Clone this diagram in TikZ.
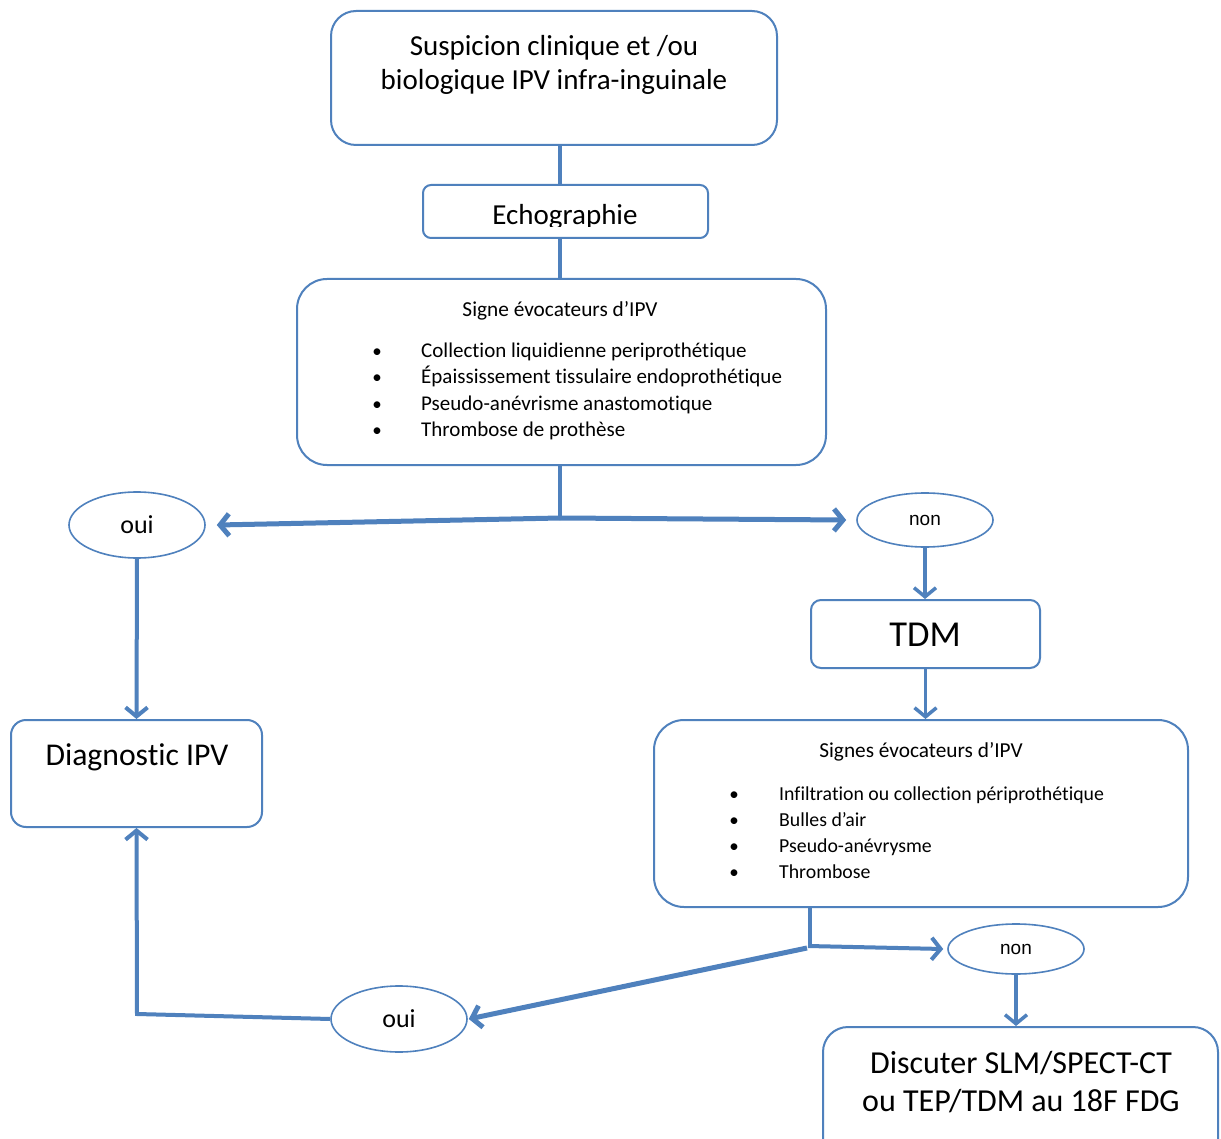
\documentclass[tikz,border=0pt]{standalone}
\usepackage{fontspec}
\setmainfont{Carlito}[Ligatures=NoCommon]
\newfontfamily\arialf{Liberation Sans}
\usetikzlibrary{arrows.meta,shapes.geometric}
\definecolor{obl}{HTML}{4F81BD}
\begin{document}
\begin{tikzpicture}[x=1pt,y=-1pt,
  box/.style={draw=obl,line width=2pt,rounded corners=#1,inner sep=0pt},
  oval/.style={draw=obl,line width=1.6pt,ellipse,inner sep=0pt},
  conn/.style={draw=obl,line width=4pt},
  arr/.style={draw=obl,line width=#1,-{Straight Barb[length=9pt,width=22pt]}},
  arr/.default=4pt,
  txt/.style={inner sep=0pt,align=center},
  item/.style={inner sep=0pt,anchor=base west,font=\fontsize{21}{25}\selectfont},
  itemb/.style={inner sep=0pt,anchor=base west,font=\fontsize{19.8}{24}\selectfont},
  bul/.style={inner sep=0pt,anchor=base,font=\fontsize{19}{23}\selectfont}]
\path[use as bounding box,clip] (0,0) rectangle (1221,1139);
\fill[white] (0,0) rectangle (1221,1139);

% boxes
\node[box=25pt,minimum width=446pt,minimum height=134pt] (b1) at (554,78) {};
\node[txt,font=\fontsize{29}{34}\selectfont] (b1t) at (554,65) {Suspicion clinique et /ou\\biologique IPV infra-inguinale};

\node[box=8pt,minimum width=285pt,minimum height=53pt] (echo) at (565.5,211.5) {};
\begin{scope}
\clip (423,185) rectangle (708,227);
\node[txt,anchor=base,font=\fontsize{29}{34}\selectfont] (echot) at (565,225) {Echographie};
\end{scope}

\node[box=30pt,minimum width=529pt,minimum height=186pt] (b3) at (561.5,372) {};
\node[txt,anchor=base,font=\fontsize{21.3}{25}\selectfont] (b3t) at (560,317) {Signe évocateurs d’IPV};
\node[bul] (b3b1) at (377,358) {•};
\node[item] (b3i1) at (421,358) {Collection liquidienne periprothétique};
\node[bul] (b3b2) at (377,384) {•};
\node[item] (b3i2) at (421,384) {Épaississement tissulaire endoprothétique};
\node[bul] (b3b3) at (377,410) {•};
\node[item] (b3i3) at (421,410) {Pseudo-anévrisme anastomotique};
\node[bul] (b3b4) at (377,436) {•};
\node[item] (b3i4) at (421,436) {Thrombose de prothèse};

\node[oval,minimum width=136pt,minimum height=66pt] (oui1) at (137,525) {};
\node[txt,font=\fontsize{26}{30}\selectfont] (oui1t) at (137,525) {oui};
\node[oval,minimum width=136pt,minimum height=54pt] (non1) at (925,520) {};
\node[txt,font=\arialf\fontsize{19}{22}\selectfont] (non1t) at (925,520) {non};

\node[box=10pt,minimum width=229pt,minimum height=68pt] (tdm) at (925.5,634) {};
\node[txt,font=\fontsize{36.5}{40}\selectfont] (tdmt) at (925,635) {TDM};

\node[box=30pt,minimum width=534pt,minimum height=187pt] (b5) at (921,813.5) {};
\node[txt,anchor=base,font=\fontsize{21.3}{25}\selectfont] (b5t) at (921,757) {Signes évocateurs d’IPV};
\node[bul] (b5b1) at (734,800) {•};
\node[itemb] (b5i1) at (779,800) {Infiltration ou collection périprothétique};
\node[bul] (b5b2) at (734,826) {•};
\node[itemb] (b5i2) at (779,826) {Bulles d’air};
\node[bul] (b5b3) at (734,852) {•};
\node[itemb] (b5i3) at (779,852) {Pseudo-anévrysme};
\node[bul] (b5b4) at (734,878) {•};
\node[itemb] (b5i4) at (779,878) {Thrombose};

\node[box=15pt,minimum width=251pt,minimum height=107pt] (diag) at (136.5,773.5) {};
\node[txt,font=\fontsize{31.7}{36}\selectfont] (diagt) at (137,757) {Diagnostic IPV};

\node[oval,minimum width=136pt,minimum height=50pt] (non2) at (1016,949) {};
\node[txt,font=\arialf\fontsize{19}{22}\selectfont] (non2t) at (1016,949) {non};

\node[oval,minimum width=136pt,minimum height=66pt] (oui2) at (399,1019) {};
\node[txt,font=\fontsize{26}{30}\selectfont] (oui2t) at (399,1019) {oui};

\node[box=25pt,minimum width=395pt,minimum height=150pt] (b6) at (1020.5,1102) {};
\node[txt,font=\fontsize{32}{38}\selectfont] (b6t) at (1021,1082) {Discuter SLM/SPECT-CT\\ou TEP/TDM au 18F FDG};

% connectors
\coordinate (j1) at (560,518);
\coordinate (j2) at (810,946);
\coordinate (j3) at (807,948);
\coordinate (c1) at (137,1014);
\draw[conn] (b1.south -| j1) -- (echo.north -| j1);
\draw[conn] (echo.south -| j1) -- (b3.north -| j1);
\draw[conn] (b3.south -| j1) -- (j1);
\draw[arr=5pt,shorten >=-1pt] (j1) -- ([xshift=12pt]oui1.east);
\draw[arr=5pt] (j1) -- ([xshift=-10pt]non1.west);
\draw[arr=3.5pt] (non1.south) -- (non1.south |- tdm.north);
\draw[arr=3.5pt] (tdm.south) -- (tdm.south |- b5.north);
\draw[conn] (b5.south -| j2) -- (j2);
\draw[arr=4pt] ([xshift=-2pt]j2) -- ([xshift=-4pt]non2.west);
\draw[arr=3.5pt] (non2.south) -- (non2.south |- b6.north);
\draw[arr=5pt] (j3) -- ([xshift=1pt]oui2.east);
\draw[arr=4pt] (oui2.west) -- (c1) -- (diag.south);
\draw[arr=4pt] (oui1.south) -- (diag.north);
\end{tikzpicture}
\end{document}
